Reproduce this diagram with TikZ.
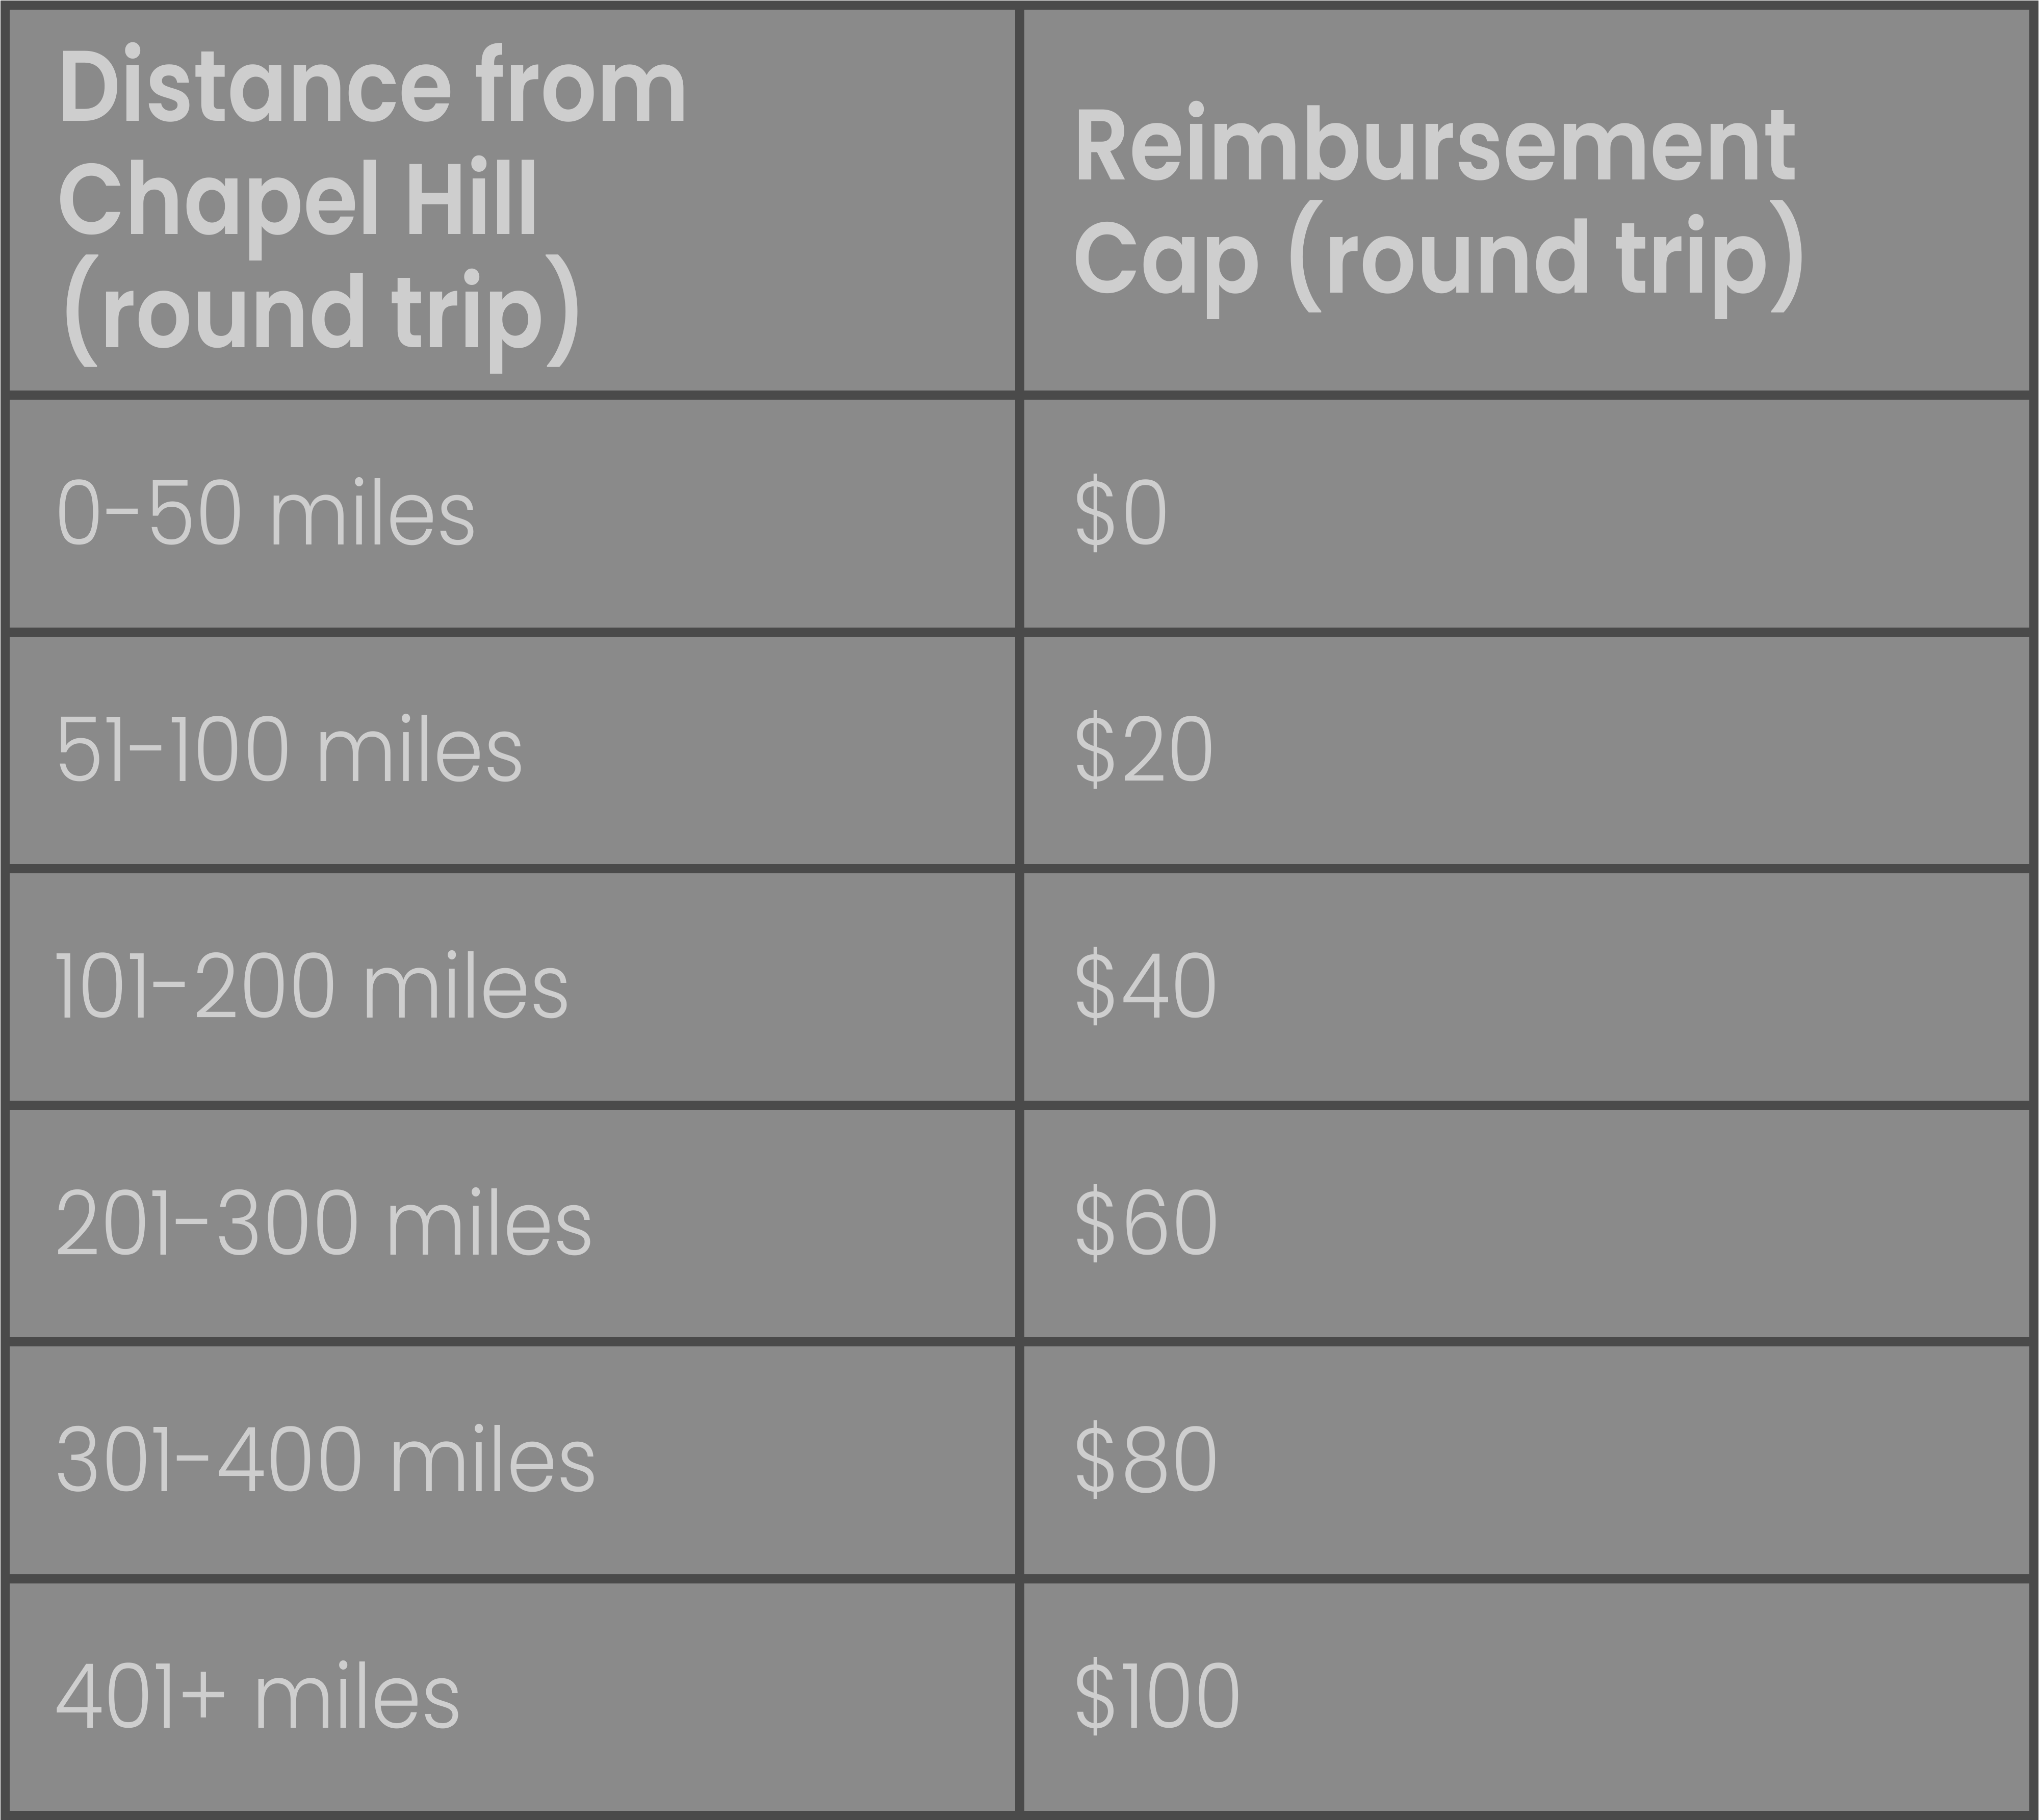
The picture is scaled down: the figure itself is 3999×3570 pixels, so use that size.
\documentclass[tikz,border=0pt]{standalone}
\usepackage{fontspec}
\setmainfont{Poppins}[UprightFont=* Light, BoldFont=* SemiBold,
    UprightFeatures={FakeStretch=0.9}, BoldFeatures={FakeStretch=0.88}]
\usepackage{tikz}

\definecolor{rulegray}{HTML}{4A4A4A}
\definecolor{cellgray}{HTML}{8A8A8A}
\definecolor{inkgray}{HTML}{CECECE}

\begin{document}
\begin{tikzpicture}[x=0.1mm,y=-0.1mm,
    rules/.style={draw=rulegray,line width=1.8mm},
    headtext/.style={anchor=base west,inner sep=0pt,text=inkgray,font=\bfseries\fontsize{56}{63}\selectfont},
    celltext/.style={anchor=base west,inner sep=0pt,text=inkgray,font=\fontsize{50}{60}\selectfont}]
    \useasboundingbox (0,0) rectangle (3999,3570);
    \coordinate (TL) at (10,10);
    \coordinate (BR) at (3989,3561);

    \fill[cellgray] (TL) rectangle (BR);

    % row and column rules
    \foreach \y in {775,1240,1704,2168,2632,3097}
        \draw[rules] (10,\y) -- (3989,\y);
    \draw[rules] (2000,10) -- (2000,3561);
    \draw[rules] (TL) rectangle (BR); % frame

    % header
    \node[headtext] (headA1) at (112,237) {Distance from};
    \node[headtext] (headA2) at (112,459) {Chapel Hill};
    \node[headtext] (headA3) at (112,681) {(round trip)};
    \node[headtext] (headB1) at (2104,352) {Reimbursement};
    \node[headtext] (headB2) at (2104,574) {Cap (round trip)};

    % body rows
    \foreach \dist/\cap [count=\i] in {0-50 miles/\$0, 51-100 miles/\$20,
        101-200 miles/\$40, 201-300 miles/\$60, 301-400 miles/\$80, 401+ miles/\$100}{
        \pgfmathsetmacro{\yb}{775+(\i-0.5)*464.3+61}
        \node[celltext] (dist\i) at (106,\yb) {\dist};
        \node[celltext] (cap\i) at (2103,\yb) {\cap};
    }
\end{tikzpicture}
\end{document}
